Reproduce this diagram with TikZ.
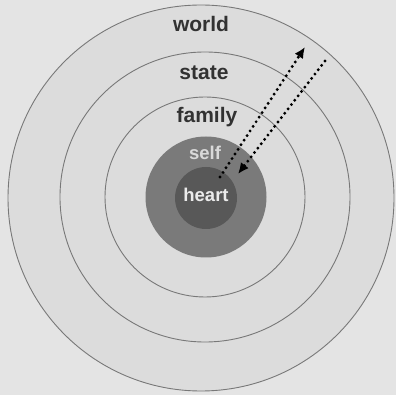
\documentclass[tikz,border=0pt]{standalone}
\usepackage{fontspec}
\setmainfont{Liberation Sans}
\usetikzlibrary{arrows.meta,positioning}
\definecolor{bg}{RGB}{228,228,228}
\definecolor{ringfill}{RGB}{220,220,220}
\definecolor{ringline}{RGB}{120,120,120}
\definecolor{selffill}{RGB}{122,122,122}
\definecolor{heartfill}{RGB}{88,88,88}
\definecolor{labeltext}{RGB}{50,50,50}
\tikzset{
  ring/.style={
    circle, draw=ringline, fill=ringfill, line width=0.9pt, inner sep=0pt
  },
  core/.style={
    circle, draw=none, inner sep=0pt
  },
  outerlbl/.style={
    font=\fontsize{21}{23}\selectfont\bfseries, text=labeltext, inner sep=0pt
  },
  innerlbl/.style={
    font=\fontsize{18.5}{20}\selectfont\bfseries, inner sep=0pt
  },
  flow/.style={
    -{Latex[length=11pt,width=10pt]}, line width=3.2pt, line cap=round,
    dash pattern=on 0pt off 5.5pt
  }
}
\begin{document}
\begin{tikzpicture}[x=1pt, y=-1pt]
\fill[bg] (0,0) rectangle (396,395);
\useasboundingbox (0,0) rectangle (396,395);
% rings
\node[ring, minimum size=386pt] (world) at (201,198) {};
\node[ring, minimum size=290pt] (state) at (205,197) {};
\node[ring, minimum size=200pt] (family) at (205,197) {};
\node[core, fill=selffill, minimum size=121pt] (self) at (206,197) {};
\node[core, fill=heartfill, minimum size=62pt] (heart) at (206,198) {};
% labels
\node[outerlbl] (worldlbl) at (201,24) {world};
\node[outerlbl] (statelbl) at (204,73) {state};
\node[outerlbl] (familylbl) at (207,117) {family};
\node[innerlbl, text=white!85!black] (selflbl) at (205,153) {self};
\node[innerlbl, text=white!92!black] (heartlbl) at (206,195) {heart};
% arrows
\coordinate (outstart) at (220,177);
\coordinate (outend) at (305,47);
\coordinate (instart) at (325,61);
\coordinate (inend) at (238,174);
\draw[flow] (outstart) -- (outend);
\draw[flow] (instart) -- (inend);
\end{tikzpicture}
\end{document}
